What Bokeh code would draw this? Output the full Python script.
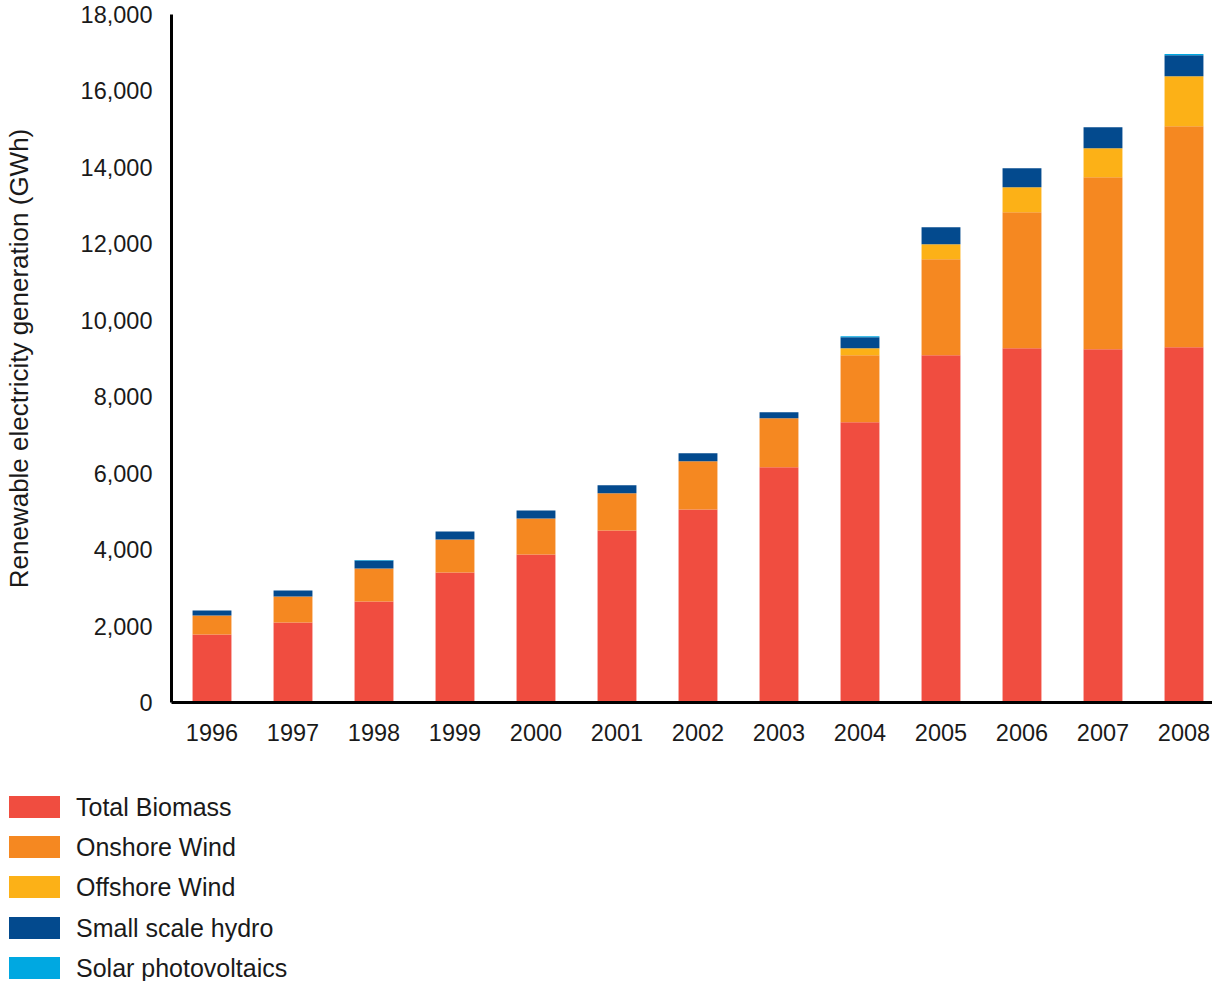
from bokeh.plotting import figure
from bokeh.layouts import column
from bokeh.models import Range1d, FixedTicker, NumeralTickFormatter, ColumnDataSource, Div
from bokeh.embed import file_html
from bokeh.resources import INLINE

years = [1996, 1997, 1998, 1999, 2000, 2001, 2002, 2003, 2004, 2005, 2006, 2007, 2008]
total_biomass = [1780, 2094, 2644, 3403, 3874, 4503, 5052, 6152, 7330, 9084, 9267, 9241, 9293]
onshore_wind = [497, 681, 864, 864, 942, 969, 1257, 1283, 1754, 2513, 3560, 4503, 5785]
offshore_wind = [0, 0, 0, 0, 0, 0, 0, 0, 183, 393, 654, 759, 1309]
small_scale_hydro = [131, 157, 209, 209, 209, 209, 209, 157, 288, 445, 497, 550, 550]
solar_pv = [0, 0, 10, 0, 0, 0, 0, 0, 25, 0, 0, 0, 30]

series = ["Total Biomass", "Onshore Wind", "Offshore Wind", "Small scale hydro", "Solar photovoltaics"]
colors = ["#F04D40", "#F58821", "#FCB117", "#034A8E", "#00A8E1"]

FONT = "Liberation Sans"

source = ColumnDataSource(dict(
    year=years,
    b=total_biomass,
    on=onshore_wind,
    off=offshore_wind,
    hy=small_scale_hydro,
    pv=solar_pv,
))

p = figure(
    frame_width=1041, frame_height=688,
    x_range=Range1d(1995.5, 2008.352),
    y_range=Range1d(0, 18000),
    output_backend="svg", toolbar_location=None,
    min_border_left=170, min_border_right=0, min_border_top=14, min_border_bottom=60,
)
p.outline_line_color = None
p.xgrid.visible = False
p.ygrid.visible = False

renderers = p.vbar_stack(["b", "on", "off", "hy", "pv"], x="year", width=0.48,
                         color=colors, source=source, line_width=0)

# axes
p.yaxis.ticker = FixedTicker(ticks=list(range(0, 18001, 2000)))
p.yaxis.formatter = NumeralTickFormatter(format="0,0")
p.xaxis.ticker = FixedTicker(ticks=years)
p.xaxis.major_label_overrides = {y: str(y) for y in years}
for ax in (p.xaxis[0], p.yaxis[0]):
    ax.axis_line_width = 3
    ax.axis_line_color = "black"
    ax.major_tick_line_color = None
    ax.minor_tick_line_color = None
    ax.major_label_text_font = FONT
    ax.major_label_text_font_size = "23.5px"
    ax.major_label_text_color = "#1a1a1a"
p.yaxis.major_label_standoff = 13
p.xaxis.major_label_standoff = 15
p.yaxis.axis_label = "Renewable electricity generation (GWh)"
p.yaxis.axis_label_text_font = FONT
p.yaxis.axis_label_text_font_size = "26px"
p.yaxis.axis_label_text_font_style = "normal"
p.yaxis.axis_label_text_color = "#1a1a1a"
p.yaxis.axis_label_standoff = 44

# legend (HTML block below the chart)
rows = []
for i, (name, col) in enumerate(zip(series, colors)):
    top = 34 + round(i * 40.25)
    rows.append(
        f'<div style="position:absolute;left:9px;top:{top}px;height:22px;'
        f'display:flex;align-items:center;white-space:nowrap;">'
        f'<span style="display:inline-block;width:51px;height:22px;background:{col};"></span>'
        f'<span style="margin-left:16px;line-height:22px;">{name}</span></div>'
    )
legend_html = (
    f'<div style="position:relative;width:600px;height:217px;'
    f"font-family:'{FONT}';font-size:25px;color:#1a1a1a;\">"
    + "".join(rows) + "</div>"
)
legend_div = Div(text=legend_html, width=1211, height=217, margin=(0, 0, 0, 0))

layout = column(p, legend_div, spacing=0)
open("out.html", "w").write(file_html(layout, INLINE))
